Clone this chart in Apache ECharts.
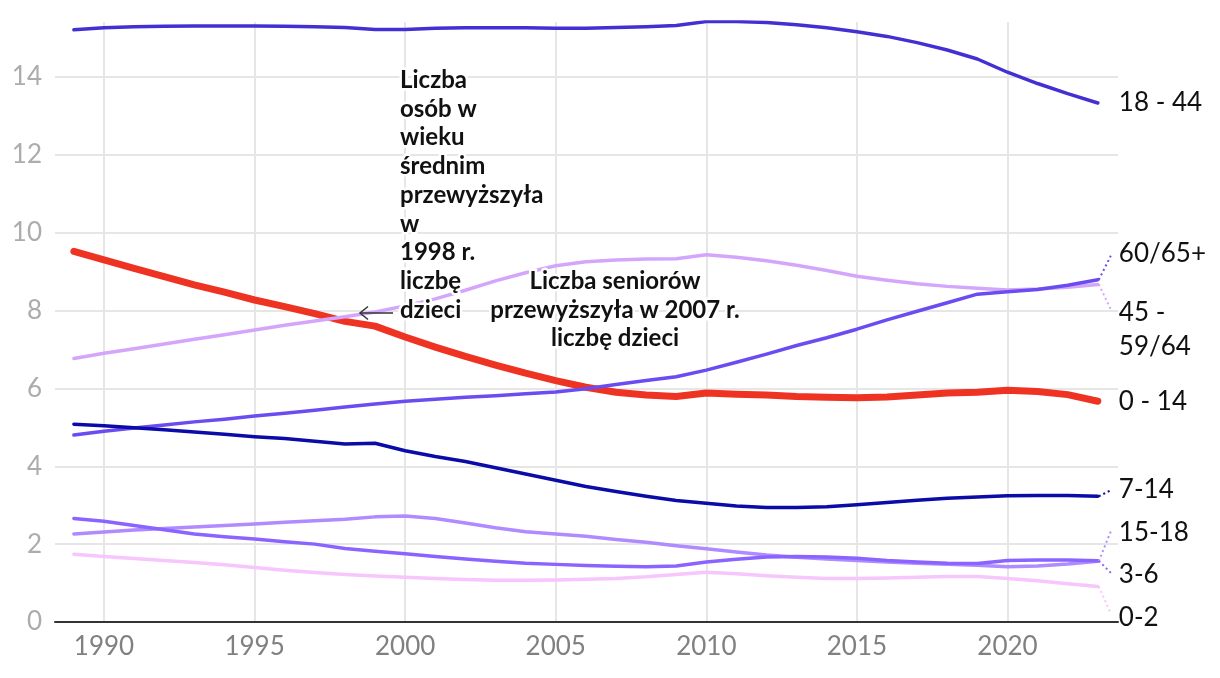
<!DOCTYPE html>
<html><head><meta charset="utf-8">
<script src="https://cdn.jsdelivr.net/npm/echarts@6/dist/echarts.min.js"></script>
<style>html,body{margin:0;padding:0;background:#fff}#c{width:1220px;height:678px}</style>
</head><body><div id="c"></div>
<script>
// ---- data ----
const years = [1989,1990,1991,1992,1993,1994,1995,1996,1997,1998,1999,2000,2001,2002,2003,2004,2005,2006,2007,2008,2009,2010,2011,2012,2013,2014,2015,2016,2017,2018,2019,2020,2021,2022,2023];
const age0_14  = [9.52,9.3,9.08,8.87,8.66,8.47,8.27,8.1,7.92,7.72,7.6,7.32,7.06,6.82,6.6,6.39,6.2,6.03,5.9,5.83,5.79,5.88,5.85,5.83,5.79,5.77,5.76,5.78,5.83,5.88,5.9,5.95,5.92,5.84,5.67];
const age45_64 = [6.77,6.9,7.02,7.14,7.26,7.38,7.5,7.62,7.73,7.84,7.96,8.12,8.3,8.52,8.76,8.97,9.15,9.25,9.3,9.32,9.33,9.43,9.37,9.28,9.16,9.03,8.88,8.78,8.69,8.62,8.57,8.53,8.55,8.6,8.67];
const age60plus= [4.8,4.9,4.98,5.06,5.14,5.21,5.29,5.36,5.44,5.52,5.6,5.67,5.72,5.77,5.81,5.86,5.91,5.99,6.1,6.2,6.3,6.47,6.67,6.88,7.1,7.3,7.52,7.76,7.98,8.2,8.42,8.48,8.54,8.65,8.79];
const age18_44 = [15.21,15.26,15.29,15.3,15.31,15.31,15.31,15.3,15.29,15.27,15.22,15.22,15.25,15.26,15.26,15.26,15.25,15.25,15.27,15.29,15.32,15.42,15.42,15.4,15.34,15.26,15.16,15.04,14.88,14.69,14.46,14.12,13.83,13.57,13.33];
const age7_14  = [5.08,5.04,4.99,4.94,4.88,4.82,4.76,4.71,4.64,4.57,4.59,4.4,4.25,4.12,3.96,3.8,3.64,3.48,3.35,3.23,3.12,3.05,2.98,2.94,2.94,2.96,3.01,3.07,3.13,3.18,3.21,3.24,3.25,3.25,3.23];
const age15_18 = [2.26,2.31,2.36,2.4,2.44,2.48,2.52,2.56,2.6,2.64,2.7,2.72,2.66,2.54,2.42,2.32,2.26,2.2,2.12,2.05,1.96,1.88,1.8,1.72,1.66,1.62,1.58,1.54,1.51,1.48,1.46,1.42,1.44,1.49,1.56];
const age3_6   = [2.66,2.59,2.48,2.37,2.26,2.19,2.13,2.06,2.0,1.89,1.82,1.75,1.68,1.62,1.56,1.51,1.48,1.45,1.43,1.42,1.44,1.54,1.61,1.67,1.68,1.67,1.64,1.58,1.54,1.51,1.5,1.58,1.59,1.59,1.57];
const age0_2   = [1.74,1.68,1.63,1.58,1.53,1.47,1.4,1.33,1.27,1.22,1.18,1.15,1.12,1.09,1.07,1.07,1.08,1.1,1.12,1.16,1.22,1.28,1.24,1.19,1.15,1.12,1.12,1.13,1.15,1.17,1.17,1.12,1.06,0.98,0.91];
const xTicks = [1990,1995,2000,2005,2010,2015,2020];
const yTicks = [0,2,4,6,8,10,12,14];
const seriesNames = ['0 - 14','45 -\n59/64','60/65+','18 - 44','7-14','15-18','3-6','0-2'];
const annotation1 = 'Liczba\nosób w\nwieku\nśrednim\nprzewyższyła\nw\n1998 r.\nliczbę\ndzieci';
const annotation2 = 'Liczba seniorów\nprzewyższyła w 2007 r.\nliczbę dzieci';

// ---- styles ----
const seriesData = [age0_14, age45_64, age60plus, age18_44, age7_14, age15_18, age3_6, age0_2];
const colors = ['#ef3322','#d3a6fc','#6a4cf0','#4330d2','#0b0ba8','#b08bff','#8b64ff','#f6c6fd'];
const widths = [7,3.5,3.5,3.5,3.5,3.5,3.5,3.5];
// label offset from line end (px) and connector target offset
const labelDy = [0,45,-26,0,-7,-29,14,31];
const connDy  = [null,25,-24,null,-6,-30,12,27];

const chart = echarts.init(document.getElementById('c'), null, {renderer:'canvas'});
const FONT = 'Lato';
chart.setOption({
  animation:false,
  grid:{left:55,right:102,top:22,bottom:56},
  xAxis:{type:'value',min:1988.373,max:2023.67,
    axisLine:{show:true,lineStyle:{color:'#333',width:2}},
    axisTick:{show:false,customValues:xTicks},
    axisLabel:{customValues:xTicks,color:'#808080',fontSize:26,fontFamily:FONT,margin:12,formatter:v=>String(v)},
    splitLine:{show:true,lineStyle:{color:'#e6e6e6',width:2}}},
  yAxis:{type:'value',min:0,max:15.41,
    axisLine:{show:false},
    axisTick:{show:false,customValues:yTicks},
    axisLabel:{customValues:yTicks,color:'#acacac',fontSize:26,fontFamily:FONT,margin:13},
    splitLine:{show:true,lineStyle:{color:'#e6e6e6',width:2}}},
  series: seriesData.map((d,i)=>({
    type:'line',name:seriesNames[i],data:years.map((y,j)=>[y,d[j]]),
    showSymbol:false,smooth:false,z:2+i,
    lineStyle:{color:colors[i],width:widths[i],cap:'round',join:'round'}
  }))
});

const g = [];
seriesData.forEach((d,i)=>{
  const p = chart.convertToPixel({gridIndex:0},[years[years.length-1], d[d.length-1]]);
  const ty = p[1] + labelDy[i];
  if (connDy[i] !== null) {
    g.push({type:'line',z:50,shape:{x1:p[0]+1,y1:p[1],x2:p[0]+13,y2:p[1]+connDy[i]},
      style:{stroke:colors[i],lineWidth:2,lineDash:[2,3]}});
  }
  g.push({type:'text',z:50,x:p[0]+21,y:ty,
    style:{text:seriesNames[i],fill:'#111',font:'26px '+FONT,align:'left',verticalAlign:'middle',lineHeight:34}});
});
// annotations
g.push({type:'text',z:60,x:400,y:66,style:{text:annotation1,fill:'#111',font:'bold 24px '+FONT,
  align:'left',verticalAlign:'top',lineHeight:28.7,stroke:'#fff',lineWidth:5}});
g.push({type:'text',z:60,x:615,y:267,style:{text:annotation2,fill:'#111',font:'bold 24px '+FONT,
  align:'center',verticalAlign:'top',lineHeight:28.7,stroke:'#fff',lineWidth:5}});
g.push({type:'polyline',z:60,shape:{points:[[393,313],[360,313]]},style:{stroke:'#333',lineWidth:1.5,fill:null}});
g.push({type:'polyline',z:60,shape:{points:[[368,306.5],[360,313],[368,319.5]]},style:{stroke:'#333',lineWidth:1.5,fill:null}});
chart.setOption({graphic:g});
</script>
</body></html>
